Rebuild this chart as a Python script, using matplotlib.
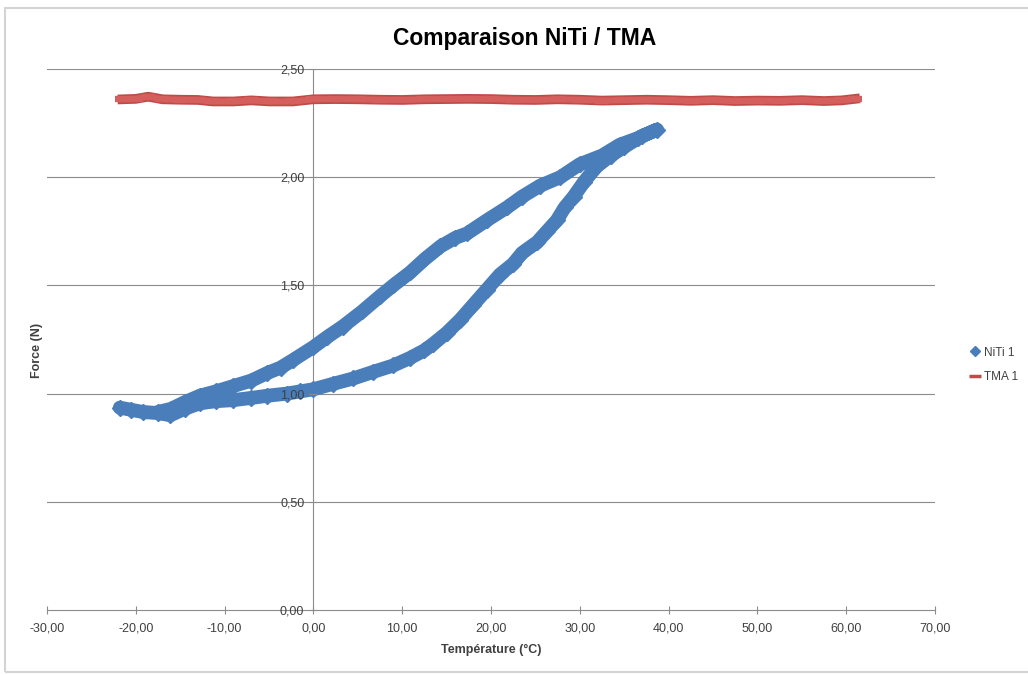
import matplotlib.pyplot as plt
from matplotlib.lines import Line2D
from matplotlib.patches import Rectangle

plt.rcParams['font.family'] = ['Liberation Sans', 'DejaVu Sans']

# NiTi 1 : boucle d'hystérésis (branche chauffe puis branche refroidissement)
niti_temp = [-21.8, -20.5, -19.2, -17.5, -16.1, -14.5, -12.8, -11.0, -9.0, -7.0,
             -5.2, -3.0, -1.5, 0.0, 2.2, 4.5, 6.7, 9.0, 10.9, 12.5,
             13.5, 15.0, 16.5, 18.0, 19.5, 21.0, 22.5, 23.5, 25.2, 26.3,
             27.4, 28.3, 29.3, 30.5, 31.9, 33.5, 35.0, 37.0, 38.7,
             36.5, 34.5, 32.5, 30.0, 27.8, 25.5, 23.5, 21.8, 19.5, 17.3,
             16.0, 14.3, 12.5, 10.9, 9.0, 7.5, 5.5, 3.3, 1.5, 0.0,
             -2.3, -3.7, -5.2, -7.0, -9.0, -11.0, -12.8, -14.5, -16.0, -17.5]
niti_force = [0.935, 0.925, 0.915, 0.910, 0.900, 0.930, 0.955, 0.965, 0.970, 0.980,
              0.990, 1.000, 1.010, 1.020, 1.045, 1.070, 1.100, 1.130, 1.165, 1.200,
              1.230, 1.280, 1.340, 1.410, 1.480, 1.550, 1.600, 1.650, 1.700, 1.750,
              1.800, 1.860, 1.910, 1.980, 2.050, 2.100, 2.140, 2.190, 2.220,
              2.180, 2.150, 2.100, 2.060, 2.000, 1.960, 1.910, 1.860, 1.800, 1.740,
              1.720, 1.680, 1.620, 1.560, 1.500, 1.450, 1.380, 1.310, 1.260, 1.215,
              1.155, 1.120, 1.095, 1.060, 1.035, 1.010, 0.990, 0.960, 0.930, 0.915]

# TMA 1 : force quasi constante
tma_temp = [-21.5, -20.0, -18.6, -17.0, -15.0, -13.0, -11.3, -9.0, -7.0, -4.9,
            -2.3, 0.0, 2.5, 5.0, 7.5, 10.0, 12.5, 15.0, 17.5, 20.0,
            22.5, 25.0, 27.5, 30.0, 32.5, 35.0, 37.5, 40.0, 42.5, 45.0,
            47.5, 50.0, 52.5, 55.0, 57.5, 59.5, 61.0]
tma_force = [2.360, 2.362, 2.372, 2.360, 2.358, 2.357, 2.350, 2.350, 2.355, 2.350,
             2.350, 2.360, 2.361, 2.360, 2.358, 2.357, 2.360, 2.361, 2.362, 2.361,
             2.358, 2.357, 2.360, 2.358, 2.354, 2.356, 2.358, 2.356, 2.353, 2.356,
             2.352, 2.354, 2.353, 2.356, 2.352, 2.355, 2.362]

x_ticks = [-30, -20, -10, 0, 10, 20, 30, 40, 50, 60, 70]
y_ticks = [0.0, 0.5, 1.0, 1.5, 2.0, 2.5]

blue = '#4A7EBB'
red = '#D45F5C'
red_dark = '#BE4B48'
grey = '#8C8C8C'
txt = '#404040'

fig = plt.figure(figsize=(10.28, 6.75), dpi=100)
ax = fig.add_axes([47 / 1028, 1 - 610 / 675, (935 - 47) / 1028, (610 - 69) / 675])

# cadre du graphique façon Excel
fig.patches.append(Rectangle((5 / 1028, 3 / 675), 1.1, 664 / 675, transform=fig.transFigure,
                             fill=False, edgecolor='#D4D4D4', lw=1.5))

ax.set_xlim(-30, 70)
ax.set_ylim(0, 2.5)
ax.set_xticks(x_ticks)
ax.set_yticks(y_ticks)
ax.set_xticklabels([f'{v:.2f}'.replace('.', ',') for v in x_ticks])
ax.set_yticklabels([f'{v:.2f}'.replace('.', ',') for v in y_ticks])

# quadrillage horizontal sous les données, étiquettes Y par-dessus
for v in y_ticks[1:]:
    ax.axhline(v, color=grey, lw=0.8, zorder=1)
for s in ['top', 'right']:
    ax.spines[s].set_visible(False)
ax.spines['left'].set_position(('data', 0))
ax.spines['left'].set_color(grey)
ax.spines['left'].set_zorder(1)
ax.spines['bottom'].set_color(grey)
ax.tick_params(axis='both', direction='inout', length=6, color=grey,
               labelsize=9, labelcolor=txt)
ax.tick_params(axis='x', pad=6)
ax.yaxis.set_zorder(5)

# NiTi : trait épais + losanges
ax.plot(niti_temp, niti_force, color=blue, lw=10, solid_joinstyle='round',
        solid_capstyle='round', zorder=3)
ax.plot(niti_temp, niti_force, 'D', color=blue, ms=8.5, zorder=4)

# TMA : trait + tirets
ax.plot(tma_temp, tma_force, color=red_dark, lw=7, zorder=3)
ax.plot(tma_temp, tma_force, color=red, lw=4.5, zorder=3)
ax.plot(tma_temp, tma_force, '_', color=red, ms=10, mew=4.5, zorder=4)

fig.text(525 / 1028, 1 - 38 / 675, 'Comparaison NiTi / TMA', ha='center', va='center',
         fontsize=16.5, fontweight='bold', color='black')
fig.text(491 / 1028, 1 - 650 / 675, 'Température (°C)', ha='center', va='center',
         fontsize=9, fontweight='bold', color=txt)
fig.text(37 / 1028, 1 - 350 / 675, 'Force (N)', ha='center', va='center', rotation=90,
         fontsize=9, fontweight='bold', color=txt)

handles = [Line2D([], [], marker='D', color=blue, ls='none', ms=5),
           Line2D([], [], marker='_', color=red_dark, ls='none', ms=9, mew=2.5)]
fig.legend(handles, ['NiTi 1', 'TMA 1'], loc='center left',
           bbox_to_anchor=(958 / 1028, 1 - 365 / 675), frameon=False,
           fontsize=8.5, handlelength=1.0, handletextpad=0.3, labelspacing=1.1,
           labelcolor=txt)

fig.savefig('out.png', dpi=100)
